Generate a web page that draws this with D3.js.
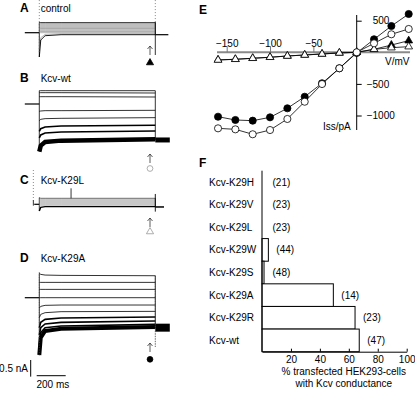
<!DOCTYPE html>
<html><head><meta charset="utf-8">
<script src="https://cdn.jsdelivr.net/npm/d3@7"></script>
<style>
body{margin:0;background:#fff;}
svg{display:block;font-family:"Liberation Sans",Arial,sans-serif;}
</style></head>
<body><svg id="c" width="415" height="400"></svg>
<script>
// ---------- DATA ----------
// Panel E: I/V relation
const voltages = [-160,-140,-120,-100,-80,-60,-40,-20,0,20,40,60];
const ivWt     = [-1203,-1219,-1297,-1230,-1055,-782,-502,-253,0,142,285,369];
const ivK29A   = [-1019,-1071,-1082,-1029,-886,-703,-490,-253,-10,206,416,606];
const ivK29L   = [-122,-111,-95,-79,-59,-43,-27,-11,0,47,73,89];
const ivControl= [-120,-110,-94,-78,-58,-42,-26,-10,0,48,115,184];
const eXTicks = [-150,-100,-50];
const eYTicks = [500,-500,-1000];

// Panel F: % transfected cells with Kcv conductance
const mutants = ["Kcv-K29H","Kcv-K29V","Kcv-K29L","Kcv-K29W","Kcv-K29S","Kcv-K29A","Kcv-K29R","Kcv-wt"];
const percent = [0,0,0,4.4,1.4,49.3,64.3,67.2];
const nCells  = [21,23,23,44,48,14,23,47];
const fXTicks = [20,40,60,80,100];

// Panels A-D: current traces (nA rel. to holding) at knot times (ms)
const knotTimes = [0,10,40,150,800];
const tracesA = [
 [0.31,0.30,0.30,0.30,0.30],[0.27,0.27,0.27,0.27,0.27],[0.24,0.24,0.24,0.24,0.24],
 [0.21,0.21,0.21,0.21,0.21],[0.18,0.18,0.18,0.18,0.18],[0.15,0.15,0.15,0.15,0.15],
 [0.13,0.13,0.13,0.13,0.13],[0.11,0.11,0.11,0.11,0.11],[0.08,0.08,0.08,0.08,0.08],
 [0.05,0.05,0.05,0.05,0.05],[0.03,0.03,0.03,0.03,0.03],[0,0,0,0,0],
 [-0.50,-0.15,-0.05,-0.03,-0.03],[-0.73,-0.22,-0.09,-0.06,-0.06]];
const tracesB = [
 [0.40,0.40,0.40,0.40,0.40],[0.34,0.34,0.34,0.34,0.33],[0.22,0.22,0.22,0.22,0.21],
 [-0.22,-0.21,-0.20,-0.20,-0.19],[-0.50,-0.46,-0.44,-0.43,-0.41],
 [-0.82,-0.74,-0.69,-0.66,-0.64],[-1.02,-0.93,-0.87,-0.84,-0.81],
 [-1.43,-1.25,-1.14,-1.10,-1.06]];
const tracesC = [
 [0.20,0.18,0.18,0.18,0.18],[0.15,0.15,0.15,0.15,0.15],[0.12,0.12,0.12,0.12,0.12],
 [0.09,0.09,0.09,0.09,0.09],[0.06,0.06,0.06,0.06,0.06],[0.03,0.03,0.03,0.03,0.03],
 [0,0,0,0,0],[-0.04,-0.03,-0.03,-0.03,-0.03],[-0.20,-0.09,-0.07,-0.07,-0.07]];
const tracesD = [
 [0.73,0.70,0.68,0.67,0.66],[0.46,0.46,0.46,0.46,0.46],[0.25,0.25,0.25,0.25,0.25],
 [0,0,0,0,0],[-0.31,-0.26,-0.23,-0.22,-0.22],[-0.60,-0.50,-0.45,-0.42,-0.41],
 [-0.90,-0.74,-0.65,-0.61,-0.58],[-1.12,-0.90,-0.79,-0.74,-0.70],
 [-1.42,-1.05,-0.90,-0.85,-0.80],[-1.72,-1.20,-1.00,-0.93,-0.88]];
const tailLevels = [-0.06,-1.08,-0.08,-0.90];   // A,B,C,D tail current
const panelTitles = ["control","Kcv-wt","Kcv-K29L","Kcv-K29A"];
const panelLetters = ["A","B","C","D"];

// ---------- DRAW ----------
const svg = d3.select("#c");
const font = 10;

// ----- Left panels -----
const xT = d3.scaleLinear([-100,900],[24.8,169.8]);
const holds = [32.7,104,204.3,297.7];
const letterY = [11.5,81.5,183.5,261.5];
const allTraces = [tracesA,tracesB,tracesC,tracesD];
const pxPerNa = 33.3;
const line = d3.line().x(d=>xT(d[0])).y(d=>d[1]);

allTraces.forEach((tr,p)=>{
  const y = d3.scaleLinear([-1,1],[holds[p]+pxPerNa,holds[p]-pxPerNa]);
  const g = svg.append("g");
  g.append("text").attr("x",20).attr("y",letterY[p]).attr("font-size",12)
    .attr("font-weight","bold").text(panelLetters[p]);
  g.append("text").attr("x",40.7).attr("y",letterY[p]).attr("font-size",font).text(panelTitles[p]);
  // holding segment
  g.append("path").attr("d",line([[p===2?-35:-100,y(0)],[0,y(0)]]))
    .attr("stroke","#000").attr("stroke-width",1.2).attr("fill","none");
  const n = tr.length;
  // thin vertical step edges
  const inits = tr.map(v=>v[0]).concat([0]);
  const ends = tr.map(v=>v[v.length-1]).concat([tailLevels[p]]);
  g.append("path").attr("d",line([[0,y(d3.max(inits))],[0,y(d3.min(inits))]]))
    .attr("stroke","#000").attr("stroke-width",0.8);
  g.append("path").attr("d",line([[800,y(d3.max(ends))],[800,y(d3.min(ends))]]))
    .attr("stroke","#000").attr("stroke-width",0.8);
  tr.forEach((vals,i)=>{
    const pts = knotTimes.map((t,k)=>[t,y(vals[k])]);
    let sw = 0.8, col = "#000";
    if(p===0){ col = (i===0||i===n-1)?"#000":"#888"; sw = (i===0||i===n-1)?0.9:0.6; }
    if(p===2){ col = (i===0||i===n-1)?"#000":"#999"; sw = (i===n-1)?1.4:0.6; }
    if(p===1 && i>=n-3) sw = (i===n-1)?4.5:1.6;
    if(p===3 && i>=n-4) sw = (i===n-1)?4:1.6;
    g.append("path").attr("d",line(pts)).attr("fill","none")
      .attr("stroke",col).attr("stroke-width",sw);
  });
  // tail
  const tailW = [1.2,5,1.5,8][p];
  g.append("path").attr("d",line([[800,y(tailLevels[p])],[[890,900,860,900][p],y(tailLevels[p])]]))
    .attr("stroke","#000").attr("stroke-width",tailW).attr("fill","none");
  // arrow + symbol
  const arrowTop = [46,154,218,343][p];
  const ax = 150;
  g.append("path").attr("d",`M${ax},${arrowTop+9}V${arrowTop}M${ax-2.5},${arrowTop+3}L${ax},${arrowTop}L${ax+2.5},${arrowTop+3}`)
    .attr("stroke","#333").attr("stroke-width",0.8).attr("fill","none");
  const sy = [62.7,168.5,231.7,359.3][p];
  const sym = [d3.symbolTriangle,d3.symbolCircle,d3.symbolTriangle,d3.symbolCircle][p];
  const filled = (p===0||p===3);
  g.append("path").attr("d",d3.symbol(sym, p%2?26:22)())
    .attr("transform",`translate(${ax},${sy})`)
    .attr("fill",filled?"#000":"#fff").attr("stroke",filled?"#000":"#999").attr("stroke-width",0.8);
});
// capacitive spikes in A
{
  const y = d3.scaleLinear([-1,1],[holds[0]+pxPerNa,holds[0]-pxPerNa]);
  svg.append("path").attr("d",line([[800,y(0.32)],[800,y(-0.67)]])).attr("stroke","#000").attr("stroke-width",0.8);
  svg.append("path").attr("d",line([[0,y(0.98)],[0,y(-0.6)]])).attr("stroke","#555").attr("stroke-width",0.7).attr("stroke-dasharray","1,2");
  svg.append("path").attr("d",line([[800,y(0.98)],[800,y(0.32)]])).attr("stroke","#555").attr("stroke-width",0.7).attr("stroke-dasharray","1,2");
}
// C extras
{
  const y = d3.scaleLinear([-1,1],[holds[2]+pxPerNa,holds[2]-pxPerNa]);
  svg.append("path").attr("d",line([[-41,y(1.03)],[-41,y(0.04)]])).attr("stroke","#555").attr("stroke-width",0.7).attr("stroke-dasharray","1,2");
  svg.append("path").attr("d",line([[219,y(0.48)],[219,y(0.18)]])).attr("stroke","#000").attr("stroke-width",0.8);
  svg.append("path").attr("d",line([[800,y(0.31)],[800,y(-0.22)]])).attr("stroke","#000").attr("stroke-width",0.9);
  svg.append("path").attr("d",line([[-41,y(0.12)],[-41,y(-0.04)]])).attr("stroke","#000").attr("stroke-width",0.8);
}
// D extras
{
  const y = d3.scaleLinear([-1,1],[holds[3]+pxPerNa,holds[3]-pxPerNa]);
  svg.append("path").attr("d",line([[0,y(0.77)],[0,y(-1.78)]])).attr("stroke","#444").attr("stroke-width",0.7).attr("stroke-dasharray","1,1.5");
  svg.append("path").attr("d",line([[800,y(0.66)],[800,y(-1.48)]])).attr("stroke","#444").attr("stroke-width",0.8).attr("stroke-dasharray","1.5,1");
}
// scale bars
{
  const y = d3.scaleLinear([-1,1],[holds[3]+pxPerNa,holds[3]-pxPerNa]);
  const barH = y(0)-y(0.5);
  const barW = xT(200)-xT(0);
  svg.append("line").attr("x1",30.7).attr("x2",30.7).attr("y1",360).attr("y2",360+barH).attr("stroke","#000").attr("stroke-width",1);
  svg.append("line").attr("x1",36.7).attr("x2",36.7+barW).attr("y1",375.7).attr("y2",375.7).attr("stroke","#000").attr("stroke-width",1);
  svg.append("text").attr("x",28).attr("y",371.5).attr("text-anchor","end").attr("font-size",font).text("0.5 nA");
  svg.append("text").attr("x",36.5).attr("y",388).attr("font-size",font).text("200 ms");
}

// ----- Panel E -----
const xE = d3.scaleLinear([-150,0],[226.7,356.7]);
const yE = d3.scaleLinear([0,500],[52.3,20.7]);
svg.append("text").attr("x",199).attr("y",14).attr("font-size",12).attr("font-weight","bold").text("E");
svg.append("line").attr("x1",217).attr("x2",410).attr("y1",yE(0)).attr("y2",yE(0))
  .attr("stroke","#8a8a8a").attr("stroke-width",2);
const gxE = svg.append("g").attr("transform",`translate(0,${yE(0)})`)
  .call(d3.axisTop(xE).tickValues(eXTicks).tickSize(6).tickPadding(-1).tickFormat(d3.format("d")));
gxE.select(".domain").remove();
gxE.selectAll(".tick line").attr("stroke","#777");
gxE.selectAll("text").attr("font-size",font).attr("font-family",null).attr("fill","#000");
svg.append("line").attr("x1",xE(0)).attr("x2",xE(0)).attr("y1",15).attr("y2",130).attr("stroke","#000").attr("stroke-width",1);
const gyE = svg.append("g").attr("transform",`translate(${xE(0)},0)`)
  .call(d3.axisRight(yE).tickValues(eYTicks).tickSize(5).tickPadding(5).tickFormat(d3.format("d")));
gyE.select(".domain").remove();
gyE.selectAll("text").attr("font-size",font).attr("font-family",null).attr("fill","#000")
  .filter(d=>d>0).attr("x",16);
svg.append("text").attr("x",385).attr("y",65.3).attr("font-size",font).text("V/mV");
svg.append("text").attr("x",323).attr("y",130).attr("font-size",font).text("Iss/pA");

const ivSeries = [
  {v:ivControl, sym:d3.symbolTriangle, fill:"#000"},
  {v:ivK29L, sym:d3.symbolTriangle, fill:"#fff"},
  {v:ivK29A, sym:d3.symbolCircle, fill:"#000"},
  {v:ivWt, sym:d3.symbolCircle, fill:"#fff"}];
const lineE = d3.line().x((d,i)=>xE(voltages[i])).y(d=>yE(d));
ivSeries.forEach(s=>{
  svg.append("path").attr("d",lineE(s.v)).attr("fill","none").attr("stroke","#000").attr("stroke-width",0.8);
});
ivSeries.forEach(s=>{
  svg.append("g").selectAll("path").data(s.v).join("path")
    .attr("d",d3.symbol(s.sym, s.sym===d3.symbolCircle?40:26)())
    .attr("transform",(d,i)=>`translate(${xE(voltages[i])},${yE(d)})`)
    .attr("fill",s.fill).attr("stroke","#000").attr("stroke-width",0.8);
});

// ----- Panel F -----
const xF = d3.scaleLinear([0,100],[262,406.7]);
const yF = d3.scaleBand(mutants,[170.7,351.7]);
svg.append("text").attr("x",199).attr("y",167).attr("font-size",12).attr("font-weight","bold").text("F");
svg.append("g").selectAll("rect").data(mutants).join("rect")
  .attr("x",xF(0)).attr("y",d=>yF(d)).attr("height",yF.bandwidth())
  .attr("width",(d,i)=>xF(percent[i])-xF(0))
  .attr("fill","#fff").attr("stroke","#000").attr("stroke-width",1);
svg.append("g").selectAll("text").data(mutants).join("text")
  .attr("x",209).attr("y",d=>yF(d)+yF.bandwidth()/2+3.6).attr("font-size",font).text(d=>d);
svg.append("g").selectAll("text").data(mutants).join("text")
  .attr("x",(d,i)=>Math.max(xF(percent[i])+8,272.5))
  .attr("y",d=>yF(d)+yF.bandwidth()/2+3.6).attr("font-size",font).text((d,i)=>`(${nCells[i]})`);
svg.append("line").attr("x1",xF(0)).attr("x2",xF(0)).attr("y1",170.7).attr("y2",351.7).attr("stroke","#000");
const gxF = svg.append("g").attr("transform","translate(0,351.7)")
  .call(d3.axisBottom(xF).tickValues(fXTicks).tickSize(-3).tickSizeOuter(0).tickPadding(4));
gxF.selectAll("text").attr("font-size",font).attr("font-family",null).attr("fill","#000");
svg.append("text").attr("x",343.8).attr("y",375).attr("text-anchor","middle").attr("font-size",font).text("% transfected HEK293-cells");
svg.append("text").attr("x",343.8).attr("y",386.5).attr("text-anchor","middle").attr("font-size",font).text("with Kcv conductance");
</script></body></html>
